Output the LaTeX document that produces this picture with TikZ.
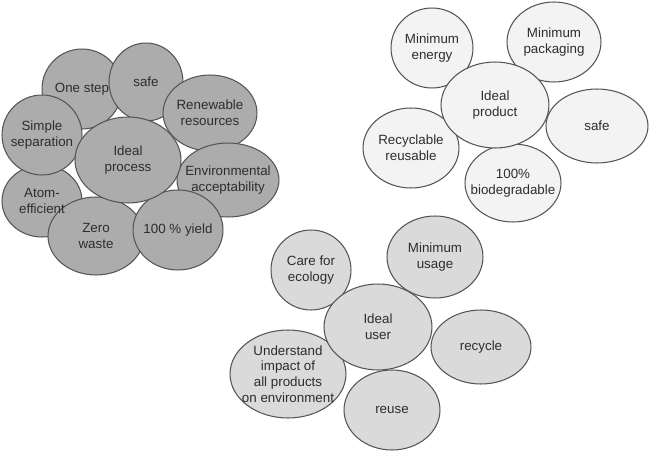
\documentclass[tikz,border=0pt]{standalone}
\usepackage{fontspec}
\setmainfont{Liberation Sans}
\usetikzlibrary{shapes.geometric}
\definecolor{procfill}{RGB}{172,172,172}
\definecolor{prodfill}{RGB}{243,243,243}
\definecolor{userfill}{RGB}{218,218,218}
\definecolor{edge}{RGB}{85,85,85}
\definecolor{txtcol}{RGB}{45,45,45}
\newcommand\bubble[6]{%
  \node[bub, #6, minimum width=#4*0.04cm, minimum height=#5*0.04cm] (#1) at (#2,#3) {};}
\newcommand\btext[2]{\node[txt] (#1-t) at (#1) {#2};}
\begin{document}
\begin{tikzpicture}[x=0.02cm, y=-0.02cm,
  bub/.style={ellipse, draw=edge, line width=0.6pt, inner sep=0pt},
  proc/.style={fill=procfill},
  prod/.style={fill=prodfill},
  user/.style={fill=userfill},
  txt/.style={align=center, text=txtcol, font=\fontsize{7.6}{9}\selectfont, inner sep=0pt}]
\useasboundingbox (0,0) rectangle (650,463);
% process cluster
\bubble{p1}{82}{89}{40}{40}{proc}
\bubble{p2}{146}{82}{37}{39}{proc}
\bubble{p3}{210}{113}{47}{38}{proc}
\bubble{p4}{228}{180}{51}{37}{proc}
\bubble{p5}{42}{201}{40}{36}{proc}
\bubble{p6}{42}{135}{40}{40}{proc}
\bubble{p7}{96}{236}{48}{39}{proc}
\bubble{p8}{178}{230}{45}{40}{proc}
\bubble{pc}{128}{160}{53}{43}{proc}
% product cluster
\bubble{q1}{432}{48}{41}{40}{prod}
\bubble{q2}{554}{42}{47}{40}{prod}
\bubble{q3}{597}{126}{51}{37}{prod}
\bubble{q4}{411}{148}{48}{40}{prod}
\bubble{q5}{513}{183}{48}{39}{prod}
\bubble{qc}{495}{105}{54}{43}{prod}
% user cluster
\bubble{u1}{311}{270}{40}{40}{user}
\bubble{u2}{435}{257}{48}{41}{user}
\bubble{u3}{481}{347}{50}{37}{user}
\bubble{u4}{288}{374}{58}{44}{user}
\bubble{u5}{392}{410}{48}{40}{user}
\bubble{uc}{378}{327}{54}{43}{user}
% texts
\btext{p1}{One step}
\btext{p2}{safe}
\btext{p3}{Renewable\\resources}
\btext{p4}{Environmental\\acceptability}
\btext{p5}{Atom-\\efficient}
\btext{p6}{Simple\\separation}
\btext{p7}{Zero\\waste}
\btext{p8}{100 \% yield}
\btext{pc}{Ideal\\process}
\btext{q1}{Minimum\\energy}
\btext{q2}{Minimum\\packaging}
\btext{q3}{safe}
\btext{q4}{Recyclable\\reusable}
\btext{q5}{100\%\\biodegradable}
\btext{qc}{Ideal\\product}
\btext{u1}{Care for\\ecology}
\btext{u2}{Minimum\\usage}
\btext{u3}{recycle}
\btext{u4}{Understand\\impact of\\all products\\on environment}
\btext{u5}{reuse}
\btext{uc}{Ideal\\user}
\end{tikzpicture}
\end{document}
